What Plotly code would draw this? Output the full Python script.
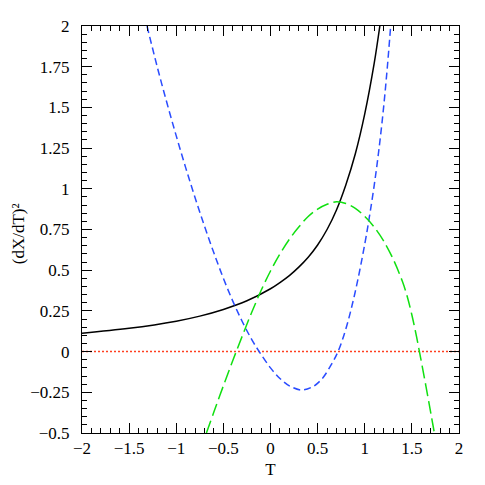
import plotly.graph_objects as go

# values
black_t = [-2.0, -1.5, -1.0, -0.75, -0.5, -0.25, 0.0, 0.1, 0.2, 0.3, 0.4, 0.5, 0.6, 0.7, 0.8, 0.9, 1.0, 1.1, 1.16]
black_y = [0.113, 0.143, 0.187, 0.218, 0.259, 0.312, 0.386, 0.424, 0.467, 0.519, 0.58, 0.655, 0.75, 0.87, 1.025, 1.215, 1.46, 1.77, 2.0]

blue_t = [-1.31, -1.2, -1.1, -1.0, -0.9, -0.8, -0.7, -0.6, -0.5, -0.4, -0.3, -0.2, -0.12, 0.0, 0.1, 0.2, 0.33,
          0.45, 0.55, 0.65, 0.716, 0.8, 0.9, 1.0, 1.05, 1.1, 1.15, 1.2, 1.24, 1.275]
blue_y = [2.0, 1.745, 1.53, 1.325, 1.13, 0.945, 0.77, 0.605, 0.45, 0.31, 0.185, 0.075, 0.0, -0.1, -0.165, -0.21, -0.236,
          -0.215, -0.165, -0.075, 0.0, 0.14, 0.37, 0.66, 0.83, 1.02, 1.24, 1.5, 1.75, 2.0]

green_t = [-0.68, -0.6, -0.5, -0.4, -0.3, -0.2, -0.1, 0.0, 0.1, 0.2, 0.3, 0.4, 0.5, 0.6, 0.7, 0.8, 0.9, 1.0,
           1.1, 1.2, 1.3, 1.4, 1.45, 1.5, 1.55, 1.6, 1.65, 1.7, 1.74]
green_y = [-0.5, -0.37, -0.21, -0.055, 0.095, 0.24, 0.375, 0.495, 0.6, 0.69, 0.765, 0.83, 0.875, 0.905, 0.92, 0.91, 0.88, 0.83,
           0.765, 0.68, 0.57, 0.43, 0.34, 0.225, 0.09, -0.06, -0.215, -0.375, -0.505]

zero_t = [-2, 2]
zero_y = [0, 0]

x_ticks = [-2, -1.5, -1, -0.5, 0, 0.5, 1, 1.5, 2]
x_labels = ["\u22122", "\u22121.5", "\u22121", "\u22120.5", "0", "0.5", "1", "1.5", "2"]
y_ticks = [-0.5, -0.25, 0, 0.25, 0.5, 0.75, 1, 1.25, 1.5, 1.75, 2]
y_labels = ["\u22120.5", "\u22120.25", "0", "0.25", "0.5", "0.75", "1", "1.25", "1.5", "1.75", "2"]

font = dict(family="Liberation Serif", size=17, color="black")

fig = go.Figure()
fig.add_trace(go.Scatter(x=zero_t, y=zero_y, mode="lines",
                         line=dict(color="#ff4020", width=1.5, dash="2px,2px")))
fig.add_trace(go.Scatter(x=black_t, y=black_y, mode="lines",
                         line=dict(color="black", width=1.5, shape="spline", smoothing=1)))
fig.add_trace(go.Scatter(x=blue_t, y=blue_y, mode="lines",
                         line=dict(color="#2a4cff", width=1.5, dash="7px,4px", shape="spline", smoothing=1)))
fig.add_trace(go.Scatter(x=green_t, y=green_y, mode="lines",
                         line=dict(color="#10e010", width=1.5, dash="13px,5px", shape="spline", smoothing=1)))

axis_style = dict(
    showgrid=False, zeroline=False, showline=True, linecolor="black", linewidth=1,
    mirror="allticks", ticks="inside", ticklen=10, tickcolor="black", tickwidth=1,
    tickfont=font, automargin=False,
)

fig.update_xaxes(range=[-2, 2], tickvals=x_ticks, ticktext=x_labels,
                 minor=dict(dtick=0.1, ticks="inside", ticklen=5, tickcolor="black"),
                 title=dict(text="T", font=font, standoff=5),
                 **axis_style)
fig.update_yaxes(range=[-0.5, 2], tickvals=y_ticks, ticktext=y_labels,
                 minor=dict(dtick=0.05, ticks="inside", ticklen=5, tickcolor="black"),
                 ticklabelstandoff=8,
                 **axis_style)

# y title as annotation so it can sit near the left edge
fig.add_annotation(text="(dX/dT)\u00b2", xref="paper", yref="paper", x=-0.168, y=0.49,
                   xanchor="center", yanchor="middle", textangle=-90, showarrow=False, font=font)

fig.update_layout(
    width=485, height=485,
    margin=dict(l=74, r=34, t=18, b=60),
    plot_bgcolor="white", paper_bgcolor="white",
    showlegend=False,
)

fig.write_html("out.html")
